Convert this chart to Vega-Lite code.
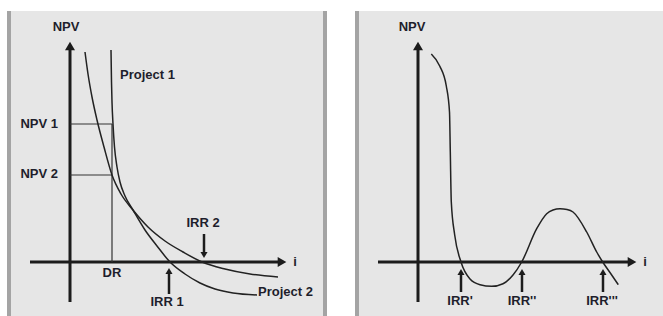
{
  "$schema": "https://vega.github.io/schema/vega-lite/v6.json",
  "background": "white",
  "padding": {"left": 7, "top": 9, "right": 0, "bottom": 0},
  "spacing": 28,
  "config": {
    "view": {"stroke": null, "fill": "#e6e6e6"},
    "text": {"font": "Liberation Sans, Arial, sans-serif", "fontWeight": "bold", "fontSize": 13, "color": "#1e1e2c"}
  },
  "hconcat": [
    {
      "width": 320,
      "height": 307,
      "layer": [
        {
          "data": {"values": [{"i": -61}, {"i": 255}]},
          "mark": {"type": "rule", "strokeWidth": 4, "color": "#a4a4a4"},
          "encoding": {"x": {"field": "i", "type": "quantitative", "scale": {"domain": [-63, 257], "nice": false, "zero": false}, "axis": null}}
        },
        {
          "data": {"values": [{"i": 0, "npv": -40, "i2": 0, "npv2": 212}, {"i": -40, "npv": 0, "i2": 209, "npv2": 0}]},
          "mark": {"type": "rule", "strokeWidth": 3, "color": "#1c1c1c"},
          "encoding": {
            "x": {"field": "i", "type": "quantitative", "scale": {"domain": [-63, 257], "nice": false, "zero": false}, "axis": null},
            "y": {"field": "npv", "type": "quantitative", "scale": {"domain": [-56, 251], "nice": false, "zero": false}, "axis": null},
            "x2": {"field": "i2"}, "y2": {"field": "npv2"}
          }
        },
        {
          "data": {"values": [{"i": 0, "npv": 138, "i2": 42, "npv2": 138}, {"i": 0, "npv": 87, "i2": 42, "npv2": 87}, {"i": 42, "npv": 0, "i2": 42, "npv2": 138}]},
          "mark": {"type": "rule", "strokeWidth": 1.2, "color": "#333333"},
          "encoding": {
            "x": {"field": "i", "type": "quantitative", "scale": {"domain": [-63, 257], "nice": false, "zero": false}, "axis": null},
            "y": {"field": "npv", "type": "quantitative", "scale": {"domain": [-56, 251], "nice": false, "zero": false}, "axis": null},
            "x2": {"field": "i2"}, "y2": {"field": "npv2"}
          }
        },
        {
          "data": {"values": [{"i": 99, "npv": -32, "i2": 99, "npv2": -12}, {"i": 134, "npv": 28, "i2": 134, "npv2": 10}]},
          "mark": {"type": "rule", "strokeWidth": 2.5, "color": "#1c1c1c"},
          "encoding": {
            "x": {"field": "i", "type": "quantitative", "scale": {"domain": [-63, 257], "nice": false, "zero": false}, "axis": null},
            "y": {"field": "npv", "type": "quantitative", "scale": {"domain": [-56, 251], "nice": false, "zero": false}, "axis": null},
            "x2": {"field": "i2"}, "y2": {"field": "npv2"}
          }
        },
        {
          "data": {"values": [
            {"project": "Project 1", "i": 41, "npv": 212},
            {"project": "Project 1", "i": 41.5, "npv": 180},
            {"project": "Project 1", "i": 42, "npv": 160},
            {"project": "Project 1", "i": 43, "npv": 138},
            {"project": "Project 1", "i": 44.5, "npv": 115},
            {"project": "Project 1", "i": 47, "npv": 95},
            {"project": "Project 1", "i": 50, "npv": 80},
            {"project": "Project 1", "i": 55, "npv": 66},
            {"project": "Project 1", "i": 63, "npv": 52},
            {"project": "Project 1", "i": 75, "npv": 32},
            {"project": "Project 1", "i": 87, "npv": 16},
            {"project": "Project 1", "i": 100, "npv": 0},
            {"project": "Project 1", "i": 115, "npv": -12},
            {"project": "Project 1", "i": 130, "npv": -21},
            {"project": "Project 1", "i": 145, "npv": -27},
            {"project": "Project 1", "i": 163, "npv": -31},
            {"project": "Project 1", "i": 187, "npv": -33},
            {"project": "Project 2", "i": 15, "npv": 210},
            {"project": "Project 2", "i": 18, "npv": 188},
            {"project": "Project 2", "i": 22, "npv": 165},
            {"project": "Project 2", "i": 27, "npv": 142},
            {"project": "Project 2", "i": 34, "npv": 115},
            {"project": "Project 2", "i": 42, "npv": 87},
            {"project": "Project 2", "i": 51, "npv": 68},
            {"project": "Project 2", "i": 63, "npv": 52},
            {"project": "Project 2", "i": 78, "npv": 35},
            {"project": "Project 2", "i": 95, "npv": 21},
            {"project": "Project 2", "i": 113, "npv": 10},
            {"project": "Project 2", "i": 132, "npv": 0},
            {"project": "Project 2", "i": 155, "npv": -7},
            {"project": "Project 2", "i": 180, "npv": -12},
            {"project": "Project 2", "i": 208, "npv": -15}
          ]},
          "mark": {"type": "line", "strokeWidth": 1.5, "color": "#222222", "interpolate": "monotone"},
          "encoding": {
            "x": {"field": "i", "type": "quantitative", "scale": {"domain": [-63, 257], "nice": false, "zero": false}, "axis": null},
            "y": {"field": "npv", "type": "quantitative", "scale": {"domain": [-56, 251], "nice": false, "zero": false}, "axis": null},
            "detail": {"field": "project"}
          }
        },
        {
          "data": {"values": [{"i": 212, "npv": 0}]},
          "mark": {"type": "point", "shape": "triangle-right", "size": 100, "filled": true, "opacity": 1, "color": "#1c1c1c"},
          "encoding": {
            "x": {"field": "i", "type": "quantitative", "scale": {"domain": [-63, 257], "nice": false, "zero": false}, "axis": null},
            "y": {"field": "npv", "type": "quantitative", "scale": {"domain": [-56, 251], "nice": false, "zero": false}, "axis": null}
          }
        },
        {
          "data": {"values": [{"i": 0, "npv": 216}]},
          "mark": {"type": "point", "shape": "triangle-up", "size": 100, "filled": true, "opacity": 1, "color": "#1c1c1c"},
          "encoding": {
            "x": {"field": "i", "type": "quantitative", "scale": {"domain": [-63, 257], "nice": false, "zero": false}, "axis": null},
            "y": {"field": "npv", "type": "quantitative", "scale": {"domain": [-56, 251], "nice": false, "zero": false}, "axis": null}
          }
        },
        {
          "data": {"values": [{"i": 99, "npv": -9}]},
          "mark": {"type": "point", "shape": "triangle-up", "size": 50, "filled": true, "opacity": 1, "color": "#1c1c1c"},
          "encoding": {
            "x": {"field": "i", "type": "quantitative", "scale": {"domain": [-63, 257], "nice": false, "zero": false}, "axis": null},
            "y": {"field": "npv", "type": "quantitative", "scale": {"domain": [-56, 251], "nice": false, "zero": false}, "axis": null}
          }
        },
        {
          "data": {"values": [{"i": 134, "npv": 7}]},
          "mark": {"type": "point", "shape": "triangle-down", "size": 50, "filled": true, "opacity": 1, "color": "#1c1c1c"},
          "encoding": {
            "x": {"field": "i", "type": "quantitative", "scale": {"domain": [-63, 257], "nice": false, "zero": false}, "axis": null},
            "y": {"field": "npv", "type": "quantitative", "scale": {"domain": [-56, 251], "nice": false, "zero": false}, "axis": null}
          }
        },
        {
          "data": {"values": [
            {"i": -4, "npv": 235, "label": "NPV"},
            {"i": 42, "npv": -11, "label": "DR"},
            {"i": 97, "npv": -40, "label": "IRR 1"},
            {"i": 133, "npv": 39, "label": "IRR 2"},
            {"i": 225, "npv": 0, "label": "i"}
          ]},
          "mark": {"type": "text", "align": "center", "baseline": "middle"},
          "encoding": {
            "x": {"field": "i", "type": "quantitative", "scale": {"domain": [-63, 257], "nice": false, "zero": false}, "axis": null},
            "y": {"field": "npv", "type": "quantitative", "scale": {"domain": [-56, 251], "nice": false, "zero": false}, "axis": null},
            "text": {"field": "label"}
          }
        },
        {
          "data": {"values": [
            {"i": 50, "npv": 187, "label": "Project 1"},
            {"i": 188, "npv": -30, "label": "Project 2"}
          ]},
          "mark": {"type": "text", "align": "left", "baseline": "middle"},
          "encoding": {
            "x": {"field": "i", "type": "quantitative", "scale": {"domain": [-63, 257], "nice": false, "zero": false}, "axis": null},
            "y": {"field": "npv", "type": "quantitative", "scale": {"domain": [-56, 251], "nice": false, "zero": false}, "axis": null},
            "text": {"field": "label"}
          }
        },
        {
          "data": {"values": [
            {"i": -12, "npv": 138, "label": "NPV 1"},
            {"i": -12, "npv": 88, "label": "NPV 2"}
          ]},
          "mark": {"type": "text", "align": "right", "baseline": "middle"},
          "encoding": {
            "x": {"field": "i", "type": "quantitative", "scale": {"domain": [-63, 257], "nice": false, "zero": false}, "axis": null},
            "y": {"field": "npv", "type": "quantitative", "scale": {"domain": [-56, 251], "nice": false, "zero": false}, "axis": null},
            "text": {"field": "label"}
          }
        }
      ]
    },
    {
      "width": 308,
      "height": 307,
      "layer": [
        {
          "data": {"values": [{"i": -61}]},
          "mark": {"type": "rule", "strokeWidth": 4, "color": "#a4a4a4"},
          "encoding": {"x": {"field": "i", "type": "quantitative", "scale": {"domain": [-63, 245], "nice": false, "zero": false}, "axis": null}}
        },
        {
          "data": {"values": [{"i": 0, "npv": -40, "i2": 0, "npv2": 212}, {"i": -40, "npv": 0, "i2": 211, "npv2": 0}]},
          "mark": {"type": "rule", "strokeWidth": 3, "color": "#1c1c1c"},
          "encoding": {
            "x": {"field": "i", "type": "quantitative", "scale": {"domain": [-63, 245], "nice": false, "zero": false}, "axis": null},
            "y": {"field": "npv", "type": "quantitative", "scale": {"domain": [-56, 251], "nice": false, "zero": false}, "axis": null},
            "x2": {"field": "i2"}, "y2": {"field": "npv2"}
          }
        },
        {
          "data": {"values": [
            {"i": 43, "npv": -30, "i2": 43, "npv2": -12},
            {"i": 104, "npv": -30, "i2": 104, "npv2": -12},
            {"i": 185, "npv": -30, "i2": 185, "npv2": -12}
          ]},
          "mark": {"type": "rule", "strokeWidth": 2.5, "color": "#1c1c1c"},
          "encoding": {
            "x": {"field": "i", "type": "quantitative", "scale": {"domain": [-63, 245], "nice": false, "zero": false}, "axis": null},
            "y": {"field": "npv", "type": "quantitative", "scale": {"domain": [-56, 251], "nice": false, "zero": false}, "axis": null},
            "x2": {"field": "i2"}, "y2": {"field": "npv2"}
          }
        },
        {
          "data": {"values": [
            {"i": 13.3, "npv": 208},
            {"i": 21.7, "npv": 196},
            {"i": 28.3, "npv": 176},
            {"i": 31.5, "npv": 150},
            {"i": 32.3, "npv": 110},
            {"i": 33.3, "npv": 60},
            {"i": 36.7, "npv": 27},
            {"i": 43, "npv": 0},
            {"i": 52, "npv": -17},
            {"i": 62, "npv": -22.7},
            {"i": 73.7, "npv": -24.3},
            {"i": 85, "npv": -21.7},
            {"i": 95, "npv": -13},
            {"i": 103.7, "npv": 0},
            {"i": 118.7, "npv": 33.3},
            {"i": 128.7, "npv": 48.3},
            {"i": 135, "npv": 52},
            {"i": 142, "npv": 53.3},
            {"i": 149, "npv": 52.5},
            {"i": 155, "npv": 50},
            {"i": 168.7, "npv": 30},
            {"i": 178.7, "npv": 10},
            {"i": 184.7, "npv": 0},
            {"i": 193, "npv": -12},
            {"i": 200.3, "npv": -22.7}
          ]},
          "mark": {"type": "line", "strokeWidth": 1.5, "color": "#222222", "interpolate": "monotone"},
          "encoding": {
            "x": {"field": "i", "type": "quantitative", "scale": {"domain": [-63, 245], "nice": false, "zero": false}, "axis": null},
            "y": {"field": "npv", "type": "quantitative", "scale": {"domain": [-56, 251], "nice": false, "zero": false}, "axis": null}
          }
        },
        {
          "data": {"values": [{"i": 214, "npv": 0}]},
          "mark": {"type": "point", "shape": "triangle-right", "size": 100, "filled": true, "opacity": 1, "color": "#1c1c1c"},
          "encoding": {
            "x": {"field": "i", "type": "quantitative", "scale": {"domain": [-63, 245], "nice": false, "zero": false}, "axis": null},
            "y": {"field": "npv", "type": "quantitative", "scale": {"domain": [-56, 251], "nice": false, "zero": false}, "axis": null}
          }
        },
        {
          "data": {"values": [{"i": 0, "npv": 216}]},
          "mark": {"type": "point", "shape": "triangle-up", "size": 100, "filled": true, "opacity": 1, "color": "#1c1c1c"},
          "encoding": {
            "x": {"field": "i", "type": "quantitative", "scale": {"domain": [-63, 245], "nice": false, "zero": false}, "axis": null},
            "y": {"field": "npv", "type": "quantitative", "scale": {"domain": [-56, 251], "nice": false, "zero": false}, "axis": null}
          }
        },
        {
          "data": {"values": [{"i": 43, "npv": -10}, {"i": 104, "npv": -10}, {"i": 185, "npv": -10}]},
          "mark": {"type": "point", "shape": "triangle-up", "size": 50, "filled": true, "opacity": 1, "color": "#1c1c1c"},
          "encoding": {
            "x": {"field": "i", "type": "quantitative", "scale": {"domain": [-63, 245], "nice": false, "zero": false}, "axis": null},
            "y": {"field": "npv", "type": "quantitative", "scale": {"domain": [-56, 251], "nice": false, "zero": false}, "axis": null}
          }
        },
        {
          "data": {"values": [
            {"i": -6, "npv": 235, "label": "NPV"},
            {"i": 227, "npv": 0, "label": "i"},
            {"i": 42, "npv": -39, "label": "IRR'"},
            {"i": 104, "npv": -39, "label": "IRR''"},
            {"i": 184, "npv": -39, "label": "IRR'''"}
          ]},
          "mark": {"type": "text", "align": "center", "baseline": "middle"},
          "encoding": {
            "x": {"field": "i", "type": "quantitative", "scale": {"domain": [-63, 245], "nice": false, "zero": false}, "axis": null},
            "y": {"field": "npv", "type": "quantitative", "scale": {"domain": [-56, 251], "nice": false, "zero": false}, "axis": null},
            "text": {"field": "label"}
          }
        }
      ]
    }
  ]
}
